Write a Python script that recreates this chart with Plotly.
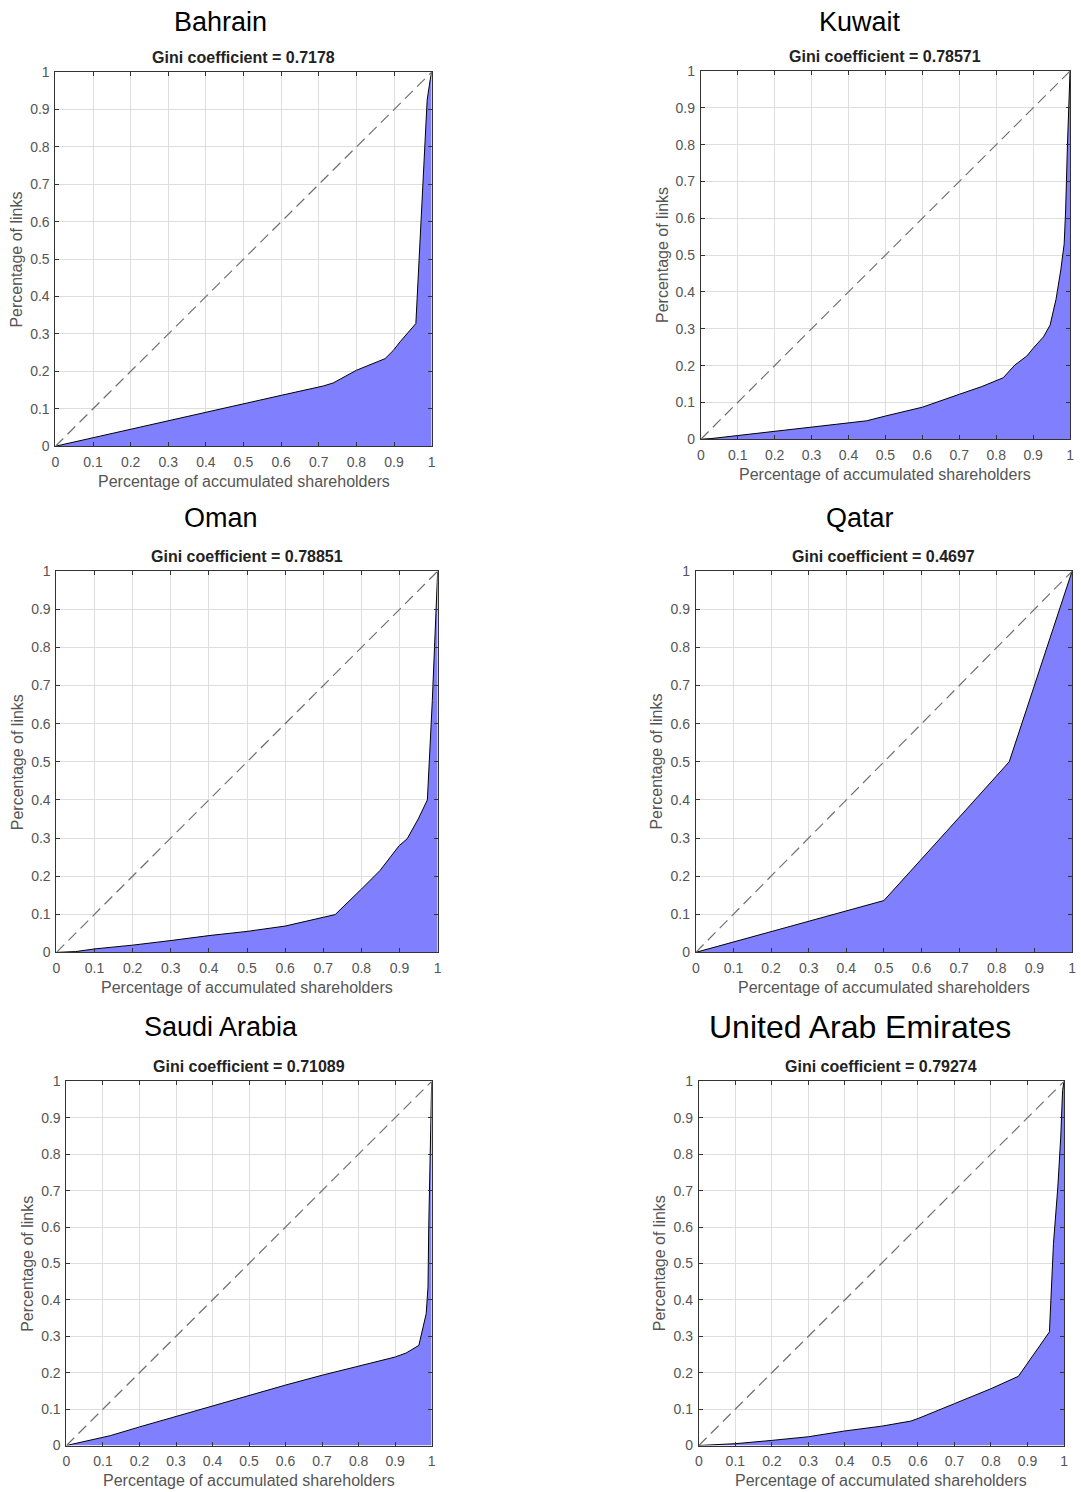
import plotly.graph_objects as go

W, H = 1081, 1492

countries = ["Bahrain", "Kuwait", "Oman", "Qatar", "Saudi Arabia", "United Arab Emirates"]
gini_values = ["0.7178", "0.78571", "0.78851", "0.4697", "0.71089", "0.79274"]

bahrain_x = [0, 0.1, 0.2, 0.3, 0.4, 0.5, 0.6, 0.712, 0.738, 0.8, 0.845, 0.876, 0.898, 0.916, 0.958, 0.988, 0.996, 1]
bahrain_y = [0, 0.023, 0.045, 0.067, 0.09, 0.114, 0.136, 0.161, 0.169, 0.203, 0.221, 0.234, 0.256, 0.279, 0.328, 0.925, 0.979, 1]

kuwait_x = [0, 0.03, 0.1, 0.2, 0.3, 0.4, 0.449, 0.5, 0.6, 0.7, 0.761, 0.819, 0.851, 0.883, 0.9, 0.928, 0.946, 0.962, 0.975, 0.984, 0.988, 0.993, 0.997, 1]
kuwait_y = [0, 0.002, 0.01, 0.021, 0.032, 0.043, 0.05, 0.063, 0.087, 0.122, 0.143, 0.167, 0.202, 0.226, 0.247, 0.278, 0.31, 0.38, 0.46, 0.53, 0.62, 0.80, 0.95, 1]

oman_x = [0, 0.05, 0.1, 0.2, 0.3, 0.4, 0.5, 0.6, 0.7, 0.731, 0.8, 0.849, 0.899, 0.92, 0.949, 0.973, 0.986, 0.993, 0.998, 1]
oman_y = [0, 0.002, 0.009, 0.019, 0.031, 0.044, 0.055, 0.069, 0.092, 0.099, 0.166, 0.215, 0.28, 0.298, 0.35, 0.4, 0.661, 0.836, 0.968, 1]

qatar_x = [0, 0.167, 0.333, 0.5, 0.667, 0.833, 1]
qatar_y = [0, 0.045, 0.091, 0.136, 0.318, 0.5, 1]

saudi_x = [0, 0.1, 0.12, 0.2, 0.3, 0.4, 0.5, 0.6, 0.7, 0.8, 0.9, 0.93, 0.965, 0.985, 0.99, 0.992, 0.995, 0.998, 1]
saudi_y = [0, 0.022, 0.027, 0.051, 0.08, 0.108, 0.136, 0.166, 0.193, 0.218, 0.243, 0.254, 0.275, 0.362, 0.435, 0.6, 0.756, 0.92, 1]

uae_x = [0, 0.03, 0.1, 0.2, 0.3, 0.4, 0.5, 0.58, 0.6, 0.7, 0.8, 0.875, 0.9, 0.96, 0.971, 0.983, 0.991, 0.996, 1]
uae_y = [0, 0.001, 0.005, 0.014, 0.024, 0.04, 0.053, 0.067, 0.074, 0.115, 0.156, 0.19, 0.225, 0.312, 0.554, 0.71, 0.847, 0.975, 1]

equality_line = [0, 1]
tick_vals = [0, 0.1, 0.2, 0.3, 0.4, 0.5, 0.6, 0.7, 0.8, 0.9, 1]
tick_text = ["0", "0.1", "0.2", "0.3", "0.4", "0.5", "0.6", "0.7", "0.8", "0.9", "1"]

series = [(bahrain_x, bahrain_y), (kuwait_x, kuwait_y), (oman_x, oman_y),
          (qatar_x, qatar_y), (saudi_x, saudi_y), (uae_x, uae_y)]

# plot-area boxes in target pixels: (left, right, top, bottom)
boxes = [(56, 432, 72, 446), (701, 1070, 71, 439),
         (57, 438, 571, 952), (696, 1072, 571, 952),
         (67, 432, 1081, 1445), (699, 1064, 1081, 1445)]
name_pos = [(221, 17), (860, 17), (221, 518), (860, 518), (221, 1027), (860, 1027)]
name_size = [27, 27, 27, 27, 27, 32]

# compensation for the slight scaling observed in the rendered screenshot
AX, CX = 0.992, 4.6
AY, CY = 0.989, 7.9


def gx(px):
    return (px - CX) / AX


def gy(py):
    return (py - CY) / AY


FONT = "Liberation Sans, Arial, sans-serif"
fig = go.Figure()
annotations = []
layout = {}

for i, ((xs, ys), (l, r, t, b)) in enumerate(zip(series, boxes)):
    k = "" if i == 0 else str(i + 1)
    xa, ya = "x" + k, "y" + k
    fig.add_trace(go.Scatter(x=xs, y=ys, mode="lines", fill="tozeroy",
                             fillcolor="#8080ff", line=dict(color="black", width=1),
                             xaxis=xa, yaxis=ya, showlegend=False, hoverinfo="skip"))
    fig.add_trace(go.Scatter(x=equality_line, y=equality_line, mode="lines",
                             line=dict(color="#707070", width=1.2, dash="11px,6px"),
                             xaxis=xa, yaxis=ya, showlegend=False, hoverinfo="skip"))
    axis_common = dict(range=[0, 1], tickvals=tick_vals, ticktext=tick_text,
                       showgrid=True, gridcolor="#dedede", gridwidth=1,
                       showline=True, linecolor="#333333", linewidth=1, mirror="ticks",
                       ticks="inside", ticklen=4, tickcolor="#333333",
                       tickfont=dict(family=FONT, size=14, color="#555555"),
                       ticklabeloverflow="allow",
                       zeroline=False, fixedrange=True)
    layout["xaxis" + k] = dict(axis_common, domain=[gx(l) / W, gx(r) / W], anchor=ya,
                               ticklabelstandoff=3)
    layout["yaxis" + k] = dict(axis_common, domain=[1 - gy(b) / H, 1 - gy(t) / H], anchor=xa,
                               ticklabelstandoff=2)

    cx = (l + r) / 2
    name_y = max(gy(name_pos[i][1]), 14)
    annotations.append(dict(text=countries[i], x=gx(name_pos[i][0]) / W, y=1 - name_y / H,
                            xref="paper", yref="paper", showarrow=False,
                            xanchor="center", yanchor="middle",
                            font=dict(family=FONT, size=name_size[i], color="black")))
    annotations.append(dict(text="<b>Gini coefficient = " + gini_values[i] + "</b>",
                            x=gx(cx) / W, y=1 - gy(t - 15) / H, xref="paper", yref="paper",
                            showarrow=False, xanchor="center", yanchor="middle",
                            font=dict(family=FONT, size=16, color="#222222")))
    annotations.append(dict(text="Percentage of accumulated shareholders",
                            x=gx(cx) / W, y=1 - gy(b + 35) / H, xref="paper", yref="paper",
                            showarrow=False, xanchor="center", yanchor="middle",
                            font=dict(family=FONT, size=16, color="#555555")))
    annotations.append(dict(text="Percentage of links", textangle=-90,
                            x=gx(l - 39) / W, y=1 - gy((t + b) / 2) / H, xref="paper", yref="paper",
                            showarrow=False, xanchor="center", yanchor="middle",
                            font=dict(family=FONT, size=16, color="#555555")))

fig.update_layout(width=W, height=H, margin=dict(l=0, r=0, t=0, b=0),
                  paper_bgcolor="white", plot_bgcolor="white",
                  annotations=annotations, **layout)

fig.write_html("out.html", config={"displayModeBar": False},
               post_script="document.body.style.margin='0';document.body.style.padding='0';"
                           "document.body.style.overflow='hidden';")
